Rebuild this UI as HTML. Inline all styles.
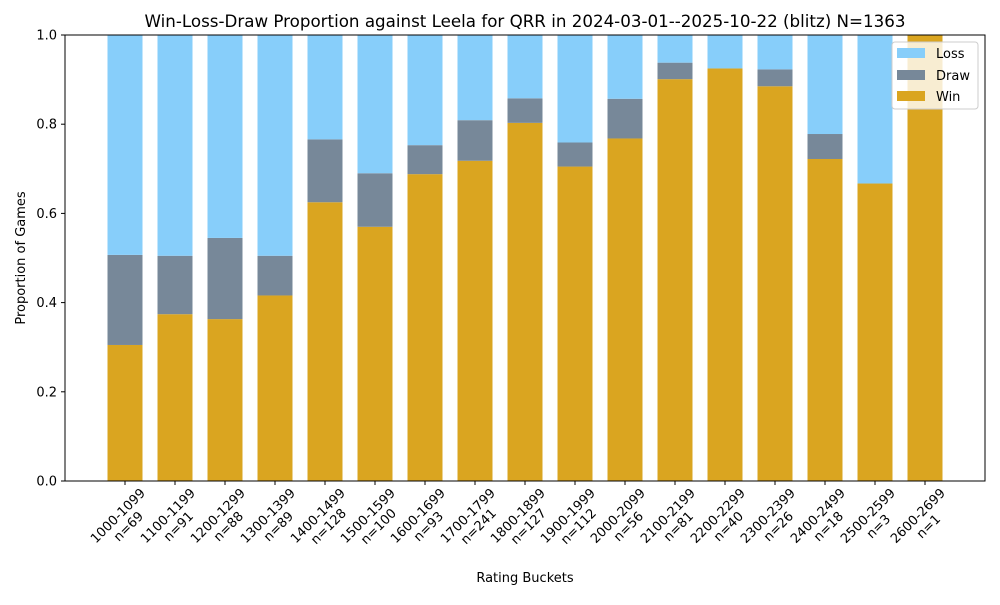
<!DOCTYPE html>
<html><head><meta charset="utf-8"><style>
body{margin:0;background:#fff;font-family:"Liberation Sans","DejaVu Sans",sans-serif;}
svg text{font-family:"DejaVu Sans","Liberation Sans",sans-serif;}
</style></head><body>
<svg id="chart" width="1000" height="600" xmlns="http://www.w3.org/2000/svg">
<rect width="1000" height="600" fill="#fff"/>
<text x="525" y="27" font-size="16.7" text-anchor="middle">Win-Loss-Draw Proportion against Leela for QRR in 2024-03-01--2025-10-22 (blitz) N=1363</text>
<g id="bars"></g>
<g id="xticks"></g>
<g id="yticks"></g>
<rect x="65" y="35" width="920" height="446" fill="none" stroke="#000" stroke-width="1"/>
<text transform="translate(25,258) rotate(-90)" font-size="13" text-anchor="middle">Proportion of Games</text>
<text x="525" y="582" font-size="13" text-anchor="middle">Rating Buckets</text>
<g>
<rect x="892" y="42" width="86" height="67" fill="#fff" fill-opacity="0.8" stroke="#ccc" rx="3"/>
<rect x="897" y="48" width="28" height="10" fill="#87CEFA"/>
<text x="936" y="58" font-size="13">Loss</text>
<rect x="897" y="70" width="28" height="10" fill="#778899"/>
<text x="936" y="80" font-size="13">Draw</text>
<rect x="897" y="91" width="28" height="10" fill="#DAA520"/>
<text x="936" y="101" font-size="13">Win</text>
</g>
</svg>
<script>
const categories=["1000-1099","1100-1199","1200-1299","1300-1399","1400-1499","1500-1599","1600-1699","1700-1799","1800-1899","1900-1999","2000-2099","2100-2199","2200-2299","2300-2399","2400-2499","2500-2599","2600-2699"];
const counts=[69,91,88,89,128,100,93,241,127,112,56,81,40,26,18,3,1];
const winValues=[0.305,0.374,0.363,0.416,0.625,0.570,0.688,0.718,0.803,0.705,0.768,0.901,0.925,0.885,0.722,0.667,1.0];
const drawValues=[0.202,0.131,0.182,0.089,0.141,0.120,0.065,0.091,0.055,0.054,0.089,0.037,0.0,0.038,0.056,0.0,0.0];
const yTicks=[0,0.2,0.4,0.6,0.8,1.0];
const NS="http://www.w3.org/2000/svg";
function xScale(i){return 125+i*50;}
function yScale(v){return 481-v*446;}
const bw=35;
const bars=document.getElementById('bars');
function mk(tag,attrs,parent){const e=document.createElementNS(NS,tag);for(const k in attrs)e.setAttribute(k,attrs[k]);parent.appendChild(e);return e;}
categories.forEach((c,i)=>{
  const w=winValues[i],d=drawValues[i],l=1-w-d;
  const x=xScale(i)-bw/2;
  let r=mk('rect',{x:x,y:yScale(w),width:bw,height:yScale(0)-yScale(w),fill:'#DAA520'},bars);
  
  
  r=mk('rect',{x:x,y:yScale(w+d),width:bw,height:yScale(w)-yScale(w+d),fill:'#778899'},bars);
  
  
  r=mk('rect',{x:x,y:yScale(w+d+l),width:bw,height:yScale(w+d)-yScale(w+d+l),fill:'#87CEFA'},bars);
  
  
  const xt=document.getElementById('xticks');
  mk('line',{x1:xScale(i),x2:xScale(i),y1:481,y2:485,stroke:'#000'},xt);
  const g=mk('g',{transform:`translate(${xScale(i)-2},${521}) rotate(-45)`},xt);
  
  
  mk('text',{x:0,y:-3,'font-size':13,'text-anchor':'middle'},g).textContent=c;
  mk('text',{x:0,y:12,'font-size':13,'text-anchor':'middle'},g).textContent='n='+counts[i];
});
const yt=document.getElementById('yticks');
yTicks.forEach(v=>{
  mk('line',{x1:61,x2:65,y1:yScale(v),y2:yScale(v),stroke:'#000'},yt);
  const t=mk('text',{x:57,y:yScale(v)+4.5,'font-size':13,'text-anchor':'end'},yt);
  t.textContent=v.toFixed(1);
  
  
});
</script>
</body></html>
